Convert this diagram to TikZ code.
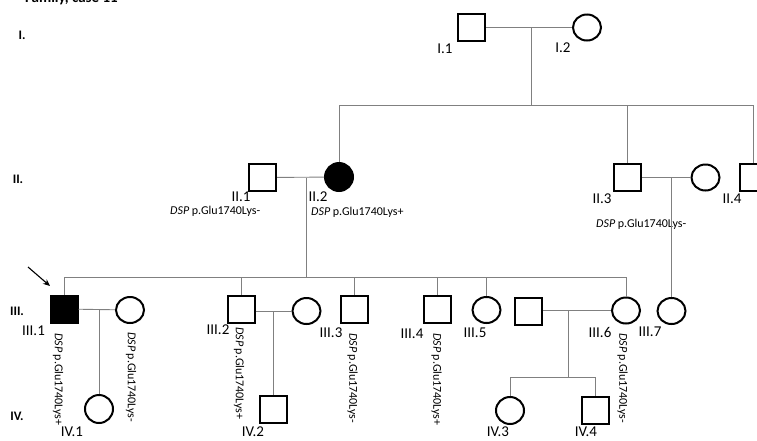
\documentclass[tikz,border=0pt]{standalone}
\usepackage{fontspec}
\setmainfont{Carlito}
\usetikzlibrary{shapes.geometric,arrows.meta}
\definecolor{linegray}{RGB}{128,128,128}
\begin{document}
\begin{tikzpicture}[x=1pt,y=-1pt,
  male/.style={rectangle,draw=black,line width=2pt,minimum size=27pt,inner sep=0pt},
  female/.style={ellipse,draw=black,line width=2pt,minimum width=28pt,minimum height=26pt,inner sep=0pt},
  affected/.style={fill=black},
  rel/.style={draw=linegray,line width=0.9pt},
  idlab/.style={inner sep=0pt,font=\fontsize{15}{18}\selectfont},
  genlab/.style={inner sep=0pt,font=\fontsize{13}{15}\selectfont\bfseries},
  dsp/.style={inner sep=0pt,font=\fontsize{12}{14}\selectfont},
  vdsp/.style={dsp,rotate=-90,anchor=west},
  pointer/.style={draw=black,line width=1.1pt,-{Stealth[length=7pt,width=6pt]}}]
\useasboundingbox (0,0) rectangle (757,440);
\clip (0,0) rectangle (757,440);

% title (cut off at top, as in the reference)
\node[anchor=base west,inner sep=0pt,font=\fontsize{15}{18}\selectfont\bfseries] (title) at (25,2.5) {Family, case 11};

% generation labels
\node[genlab] (gI) at (22,35) {I.};
\node[genlab] (gII) at (18,179) {II.};
\node[genlab] (gIII) at (17,311) {III.};
\node[genlab] (gIV) at (17,416) {IV.};

% generation I
\node[male] (i1) at (471.5,27.5) {};
\node[female] (i2) at (587,27.5) {};
\node[idlab] (li1) at (445,49) {I.1};
\node[idlab] (li2) at (563,47.5) {I.2};

% generation II
\node[male] (ii1) at (262.5,177.5) {};
\node[female,affected,minimum width=28pt,minimum height=28pt] (ii2) at (339,177) {};
\node[male] (ii3) at (627.5,177.5) {};
\node[female] (ii3w) at (705.5,177.5) {};
\node[male] (ii4) at (753,177.5) {};
\node[idlab] (lii1) at (241,197) {II.1};
\node[idlab] (lii2) at (318,197) {II.2};
\node[idlab] (lii3) at (602,199) {II.3};
\node[idlab] (lii4) at (732,199) {II.4};
\node[dsp,anchor=base west] (dii1) at (170,214) {\textit{DSP} p.Glu1740Lys-};
\node[dsp,anchor=base west] (dii2) at (311,215) {\textit{DSP} p.Glu1740Lys+};
\node[dsp,anchor=base west] (dii3) at (596,227) {\textit{DSP} p.Glu1740Lys-};

% generation III
\node[male,affected] (iii1) at (64,309) {};
\node[female] (iii1w) at (130,310) {};
\node[male] (iii2) at (241,309) {};
\node[female] (iii2w) at (306.5,311) {};
\node[male] (iii3) at (354,309) {};
\node[male] (iii4) at (437.5,309) {};
\node[female] (iii5) at (486.5,310) {};
\node[male] (iii6h) at (528.5,311) {};
\node[female] (iii6) at (626,310.5) {};
\node[female] (iii7) at (671.5,311) {};
\node[idlab] (liii1) at (33.5,331) {III.1};
\node[idlab] (liii2) at (218,330) {III.2};
\node[idlab] (liii3) at (331,333) {III.3};
\node[idlab] (liii4) at (412,334) {III.4};
\node[idlab] (liii5) at (475,333) {III.5};
\node[idlab] (liii6) at (600,332) {III.6};
\node[idlab] (liii7) at (650,332) {III.7};
\node[vdsp] (diii1) at (58,333) {\textit{DSP} p.Glu1740Lys+};
\node[vdsp] (diii1w) at (131,332) {\textit{DSP} p.Glu1740Lys-};
\node[vdsp] (diii2) at (239,327) {\textit{DSP} p.Glu1740Lys+};
\node[vdsp] (diii3) at (352.5,333) {\textit{DSP} p.Glu1740Lys-};
\node[vdsp] (diii4) at (436.5,333) {\textit{DSP} p.Glu1740Lys+};
\node[vdsp] (diii6) at (622.5,333) {\textit{DSP} p.Glu1740Lys-};

% generation IV
\node[female,minimum height=28pt] (iv1) at (99,409) {};
\node[male] (iv2) at (273.5,409) {};
\node[female,minimum height=27pt] (iv3) at (510,410.5) {};
\node[male] (iv4) at (595,410.5) {};
\node[idlab,anchor=base] (liv1) at (72,436.5) {IV.1};
\node[idlab,anchor=base] (liv2) at (253,436.5) {IV.2};
\node[idlab,anchor=base] (liv3) at (498,436.5) {IV.3};
\node[idlab,anchor=base] (liv4) at (586,436.5) {IV.4};

% proband arrow
\coordinate (arrS) at (28,267);
\coordinate (arrE) at (50,286);
\draw[pointer] (arrS) -- (arrE);

% connectors generation I -> II
\coordinate (c1) at (531,27.5);
\coordinate (s2) at (531,105);
\draw[rel] (i1) -- (i2);
\draw[rel] (c1) -- (s2);
\draw[rel] (ii2.north |- s2) -- (ii4.north |- s2);
\draw[rel] (ii2.north |- s2) -- (ii2.north);
\draw[rel] (ii3.north |- s2) -- (ii3.north);
\draw[rel] (ii4.north |- s2) -- (ii4.north);

% connectors generation II -> III
\coordinate (c2) at (306,177.5);
\coordinate (s3) at (306,277);
\draw[rel] (ii1) -- (ii2);
\draw[rel] (c2) -- (s3);
\draw[rel] (iii1.north |- s3) -- (iii6.north |- s3);
\draw[rel] (iii1.north |- s3) -- (iii1.north);
\draw[rel] (iii2.north |- s3) -- (iii2.north);
\draw[rel] (iii3.north |- s3) -- (iii3.north);
\draw[rel] (iii4.north |- s3) -- (iii4.north);
\draw[rel] (iii5.north |- s3) -- (iii5.north);
\draw[rel] (iii6.north |- s3) -- (iii6.north);
\coordinate (c3) at (671.5,177.5);
\draw[rel] (ii3) -- (ii3w);
\draw[rel] (c3) -- (iii7.north);

% connectors generation III -> IV
\coordinate (c4) at (99,310);
\draw[rel] (iii1) -- (iii1w);
\draw[rel] (c4) -- (iv1.north);
\coordinate (c5) at (273.5,311);
\draw[rel] (iii2.east |- c5) -- (iii2w);
\draw[rel] (c5) -- (iv2.north);
\coordinate (c6) at (568,310.5);
\coordinate (s4) at (568,377);
\draw[rel] (iii6h.east |- c6) -- (iii6);
\draw[rel] (c6) -- (s4);
\draw[rel] (iv3.north |- s4) -- (iv4.north |- s4);
\draw[rel] (iv3.north |- s4) -- (iv3.north);
\draw[rel] (iv4.north |- s4) -- (iv4.north);
\end{tikzpicture}
\end{document}
